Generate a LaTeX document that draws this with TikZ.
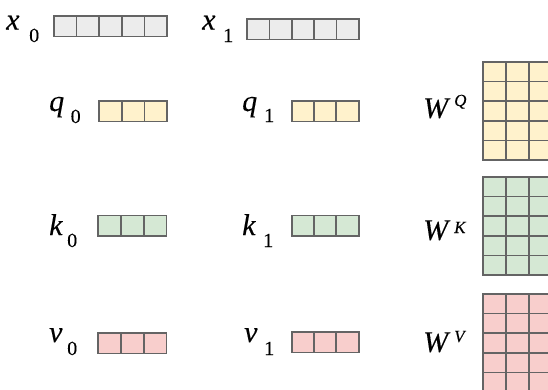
\documentclass[tikz,border=0pt]{standalone}
\usepackage{fontspec}
\setmainfont{Liberation Serif}
\newfontfamily\lblfont{Liberation Serif}[FakeBold=0.2]
\definecolor{edgec}{RGB}{100,100,100}
\definecolor{xfill}{RGB}{236,236,236}
\definecolor{qfill}{RGB}{255,242,204}
\definecolor{kfill}{RGB}{213,232,212}
\definecolor{vfill}{RGB}{248,206,204}
\tikzset{
  vcell/.style={draw=edgec, line width=1.6pt, anchor=north west, minimum width=22.6pt, minimum height=20.5pt, inner sep=0pt, outer sep=0pt},
  mcell/.style={draw=edgec, line width=1.6pt, anchor=north west, minimum width=23pt, minimum height=19.6pt, inner sep=0pt, outer sep=0pt},
  lbl/.style={anchor=base west, inner sep=0pt, font=\lblfont\fontsize{30}{32}\selectfont\itshape},
  sublbl/.style={anchor=base west, inner sep=0pt, font=\lblfont\fontsize{20}{22}\selectfont},
  suplbl/.style={anchor=base west, inner sep=0pt, font=\lblfont\fontsize{17}{19}\selectfont\itshape},
}
\begin{document}
\begin{tikzpicture}[x=1pt,y=-1pt]
\useasboundingbox (0,0) rectangle (548,389);
\clip (0,0) rectangle (548,389);
% input vectors
\foreach \i in {0,...,4} {
  \node[vcell, fill=xfill] (x0c\i) at (54+\i*22.6,16) {};
  \node[vcell, fill=xfill] (x1c\i) at (247+\i*22.4,19) {};
}
% q, k, v vectors
\foreach \i in {0,1,2} {
  \node[vcell, fill=qfill] (q0c\i) at (99+\i*22.7,101) {};
  \node[vcell, fill=qfill] (q1c\i) at (292+\i*22.1,101) {};
  \node[vcell, fill=kfill] (k0c\i) at (98+\i*23,215.5) {};
  \node[vcell, fill=kfill] (k1c\i) at (292+\i*22.1,215.5) {};
  \node[vcell, fill=vfill] (v0c\i) at (98+\i*23,333) {};
  \node[vcell, fill=vfill] (v1c\i) at (292+\i*22.1,332) {};
}
% weight matrices
\foreach \r in {0,...,4} {
  \foreach \c in {0,...,3} {
    \node[mcell, fill=qfill] (wq\r\c) at (483+\c*23,62+\r*19.6) {};
    \node[mcell, fill=kfill] (wk\r\c) at (483+\c*23,177+\r*19.6) {};
    \node[mcell, fill=vfill] (wv\r\c) at (483+\c*23,294+\r*19.6) {};
  }
}
% labels
\node[lbl] (lx0) at (6,29.5) {x};
\node[sublbl] (lx0s) at (29,42) {0};
\node[lbl] (lx1) at (202,29.5) {x};
\node[sublbl] (lx1s) at (223,42) {1};
\node[lbl] (lq0) at (49,111) {q};
\node[sublbl] (lq0s) at (70.5,123) {0};
\node[lbl] (lq1) at (242,111) {q};
\node[sublbl] (lq1s) at (264,122) {1};
\node[lbl] (lk0) at (49,235) {k};
\node[sublbl] (lk0s) at (67,247) {0};
\node[lbl] (lk1) at (242,235) {k};
\node[sublbl] (lk1s) at (263,247) {1};
\node[lbl] (lv0) at (49,342) {v};
\node[sublbl] (lv0s) at (67,355) {0};
\node[lbl] (lv1) at (244,342) {v};
\node[sublbl] (lv1s) at (264,355) {1};
\node[lbl] (lwq) at (423,118) {W};
\node[suplbl] (lwqs) at (454,106) {Q};
\node[lbl] (lwk) at (423,240) {W};
\node[suplbl] (lwks) at (454,233) {K};
\node[lbl] (lwv) at (423,352) {W};
\node[suplbl] (lwvs) at (454,342) {V};
\end{tikzpicture}
\end{document}
